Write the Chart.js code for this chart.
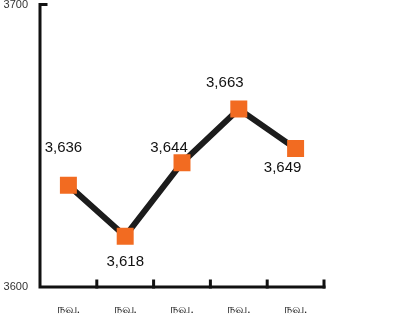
<!DOCTYPE html>
<html>
<head>
<meta charset="utf-8">
<script src="https://cdn.jsdelivr.net/npm/chart.js@4/dist/chart.umd.min.js"></script>
<style>
  html, body { margin: 0; padding: 0; background: #fff; }
  #wrap { width: 419px; height: 314px; }
</style>
</head>
<body>
<div id="wrap"><canvas id="c" width="419" height="314"></canvas></div>
<script>
let categories = ["நவ.", "நவ.", "நவ.", "நவ.", "நவ."];
let values = [3636, 3618, 3644, 3663, 3649];
let yTicks = [3600, 3700];

// where each value label sits relative to its point (px)
let labelOffsets = [[-5, -37], [0, 26], [-13, -15], [-14, -26], [-13, 19]];

// axis lines + inward ticks, drawn by hand
let axisPlugin = {
  id: "axisPlugin",
  afterDatasetsDraw(chart) {
    let ctx = chart.ctx;
    let area = chart.chartArea;
    let xs = chart.scales.x;
    let n = categories.length;
    let step = (area.right - area.left) / n;
    ctx.save();
    ctx.strokeStyle = "#111";
    ctx.lineWidth = 3;
    ctx.lineCap = "square";
    ctx.beginPath();
    ctx.moveTo(area.left + 6, area.top);
    ctx.lineTo(area.left, area.top);
    ctx.lineTo(area.left, area.bottom);
    ctx.lineTo(area.right, area.bottom);
    ctx.stroke();
    ctx.beginPath();
    for (let i = 1; i <= n; i++) {
      let x = xs.getPixelForValue(i - 1) + step / 2;
      ctx.moveTo(x, area.bottom);
      ctx.lineTo(x, area.bottom - 6);
    }
    ctx.stroke();
    ctx.restore();
  }
};

// value labels above / below the points
let labelPlugin = {
  id: "labelPlugin",
  afterDatasetsDraw(chart) {
    let ctx = chart.ctx;
    let meta = chart.getDatasetMeta(0);
    ctx.save();
    ctx.font = "15px 'Liberation Sans', Arial, sans-serif";
    ctx.fillStyle = "#111";
    ctx.textAlign = "center";
    ctx.textBaseline = "middle";
    meta.data.forEach(function (pt, i) {
      let txt = values[i].toLocaleString("en-US");
      ctx.fillText(txt, pt.x + labelOffsets[i][0], pt.y + labelOffsets[i][1]);
    });
    ctx.restore();
  }
};

let ctx = document.getElementById("c").getContext("2d");
let chart = new Chart(ctx, {
  type: "line",
  data: {
    labels: categories,
    datasets: [{
      data: values,
      borderColor: "#1c1c1c",
      borderWidth: 6,
      tension: 0,
      pointStyle: "rect",
      pointRadius: 12,
      pointHoverRadius: 12,
      pointBackgroundColor: "#f26b21",
      pointBorderColor: "#f26b21",
      pointBorderWidth: 0
    }]
  },
  options: {
    responsive: false,
    animation: false,
    layout: { autoPadding: false, padding: { top: 4, right: 95, left: 0, bottom: 0 } },
    plugins: { legend: { display: false }, tooltip: { enabled: false } },
    scales: {
      x: {
        offset: true,
        grid: { display: false },
        border: { display: false },
        ticks: {
          color: "#222",
          font: { size: 13, family: "serif" },
          padding: 7,
          maxRotation: 0
        },
        afterFit(scale) { scale.height = 27; }
      },
      y: {
        min: 3600,
        max: 3700,
        afterBuildTicks(scale) { scale.ticks = yTicks.map(v => ({ value: v })); },
        grid: { display: false },
        border: { display: false },
        ticks: {
          color: "#333",
          font: { size: 11, family: "'Liberation Sans', Arial, sans-serif", lineHeight: 0.1 },
          padding: 4,
          callback: v => String(v)
        },
        afterFit(scale) { scale.width = 40; }
      }
    }
  },
  plugins: [axisPlugin, labelPlugin]
});
</script>
</body>
</html>
